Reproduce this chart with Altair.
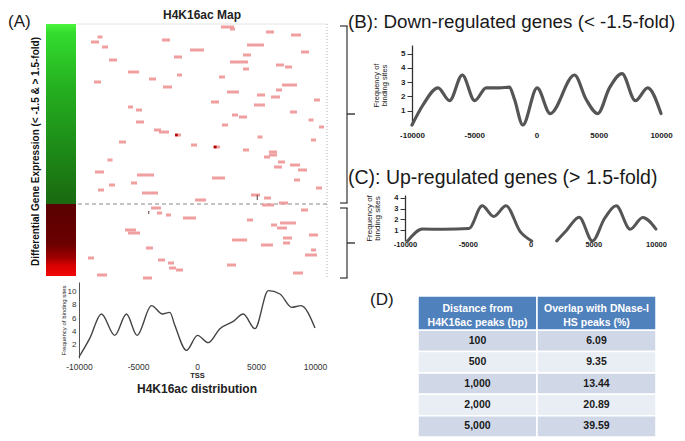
import altair as alt
import pandas as pd

FONT = "Liberation Sans"

# ---------------- Panel A: H4K16ac map ----------------
# binding sites: centre (bp from TSS), width (bp) and gene row (sorted by fold change)
seg_center = [2040, 2440, -8160, -8560, -7760, -2880, -400, 5440, 7520, 4280,
              8240, 3600, -7120, -1920, 2960, 6240, 6920, 3520, -5480, -1800,
              1600, -3960, -8360, 7000, -2760, 6160, 2480, 4720, 5880, 9200,
              1040, 4600, -5720, -5040, 7320, 2640, 3280, 8720, -4960, 1840,
              9560, -3560, -3040, -1920, 4640, -6360, 8920, -640, 1160, 3520,
              5680, 5680, 5200, -7360, 6360, 7440, 6080, 8040, -8200, -4520,
              1320, 7600, -5440, -7200, 9360, -8080, -4160, 4280, 5240, -120,
              6520, 5280, -3680, 8200, -3400, -2680, -1000, 3840, 6880, 5760,
              6400, -5720, -5440, 8920, 6840, 3000, 6760, 5200, -4200, 8920,
              8720, -8880, -3240, -2480, 2360, -2360, -1800, 7680, -8000, -4360]
seg_width = [1040, 400, 400, 640, 480, 640, 1120, 640, 800, 1360,
             640, 640, 640, 640, 1440, 640, 560, 480, 880, 400,
             480, 560, 560, 1200, 720, 480, 960, 640, 720, 480,
             640, 880, 400, 480, 560, 480, 640, 400, 640, 480,
             400, 560, 800, 480, 400, 560, 400, 480, 560, 480,
             640, 640, 480, 400, 560, 800, 640, 720, 720, 1360,
             1040, 480, 480, 480, 480, 480, 1280, 720, 560, 880,
             720, 960, 800, 560, 400, 400, 1040, 480, 1280, 480,
             800, 880, 960, 720, 720, 1200, 560, 960, 560, 400,
             960, 480, 560, 480, 720, 560, 560, 800, 800, 720]
seg_row = [3, 5, 13, 18, 23, 16, 26, 8, 11, 21,
           28, 31, 36, 33, 38, 41, 43, 45, 48, 51,
           53, 55, 58, 61, 63, 66, 68, 71, 73, 76,
           78, 81, 83, 86, 88, 91, 93, 96, 98, 101,
           103, 106, 108, 111, 113, 118, 116, 121, 123, 126,
           128, 131, 133, 136, 138, 141, 143, 146, 148, 151,
           154, 156, 159, 161, 164, 166, 169, 171, 174, 176,
           179, 181, 184, 186, 189, 191, 194, 196, 199, 201,
           204, 206, 209, 211, 214, 216, 219, 221, 224, 226,
           231, 234, 236, 239, 241, 244, 246, 249, 251, 254]
dot_pos = [-2050, 1060]
dot_row = [111, 123]
mark_pos = [4420, -4260]
mark_row_start = [171, 187]
mark_row_end = [176, 190]

group_names = ["Down-regulated", "Up-regulated"]
group_row_start = [0, 180]
group_row_end = [180, 252]
brace_start = [2, 184]
brace_end = [179, 254]
brace_mid = [90, 219]
N_ROWS = 254

# ---------------- Panel A: distribution ----------------
dist_x = [-10000, -9100, -8100, -6970, -5980, -5080, -3860, -2930, -2300, -1880, -890,
          40, 950, 1940, 3070, 3920, 4910, 6040, 7030, 8020, 8810, 10000]
dist_y = [0.15, 2.9, 6.6, 3.4, 6.6, 3.4, 7.85, 6.6, 6.85, 4.9, 1.15,
          3.4, 2.3, 4.4, 5.5, 6.6, 4.4, 10.1, 9.6, 7.6, 7.85, 4.5]

# ---------------- Panel B ----------------
b_x = [-10000, -9120, -7910, -6980, -5960, -4970, -4040, -2970, -2170, -1770, -1100,
       50, 1100, 3050, 3980, 4920, 5860, 6870, 7940, 8930, 10000]
b_y = [0.0, 1.4, 2.6, 1.7, 3.5, 1.7, 2.6, 2.6, 2.65, 1.8, 0.0,
       2.6, 0.8, 3.5, 1.8, 0.8, 2.6, 3.6, 1.7, 2.6, 0.8]

# ---------------- Panel C ----------------
c1_x = [-9790, -8600, -6890, -4910, -3850, -2930, -1950, -820, 100]
c1_y = [0.0, 1.1, 1.08, 1.15, 3.25, 2.26, 3.25, 0.87, 0.0]
c2_x = [2080, 2880, 3880, 4930, 5910, 6830, 7940, 8940, 10000]
c2_y = [0.0, 1.0, 2.2, 0.0, 2.1, 3.25, 1.08, 2.17, 1.1]

# ---------------- Panel D ----------------
table_header = ["Distance from\nH4K16ac peaks (bp)", "Overlap with DNase-I\nHS peaks (%)"]
table_distance = ["100", "500", "1,000", "2,000", "5,000"]
table_overlap = ["6.09", "9.35", "13.44", "20.89", "39.59"]

tick_values = [-10000, -5000, 0, 5000, 10000]
label_expr = "'' + datum.value"


def spacer(w, h):
    return (alt.Chart(pd.DataFrame({"v": [0]}))
            .mark_rect(opacity=0)
            .encode(x=alt.value(0), x2=alt.value(1), y=alt.value(0), y2=alt.value(1))
            .properties(width=w, height=h))


rows_scale = alt.Scale(domain=[0, N_ROWS], reverse=True, nice=False, zero=False)
pos_scale = alt.Scale(domain=[-10000, 10000], nice=False, zero=False)

# ---- colour bar ----
groups = pd.DataFrame({"group": group_names, "start": group_row_start, "end": group_row_end})
cb_y = alt.Y("start:Q", scale=rows_scale,
             axis=alt.Axis(title="Differential Gene Expression  (< -1.5 & > 1.5-fold)",
                           titleFontSize=10, titleFontWeight="bold", titleColor="#111",
                           labels=False, ticks=False, domain=False, grid=False, titlePadding=6))
green_grad = alt.LinearGradient(gradient="linear", x1=0, x2=0, y1=0, y2=1, stops=[
    alt.GradientStop(color="#4cf53c", offset=0),
    alt.GradientStop(color="#33dc2e", offset=0.05),
    alt.GradientStop(color="#25b020", offset=0.35),
    alt.GradientStop(color="#1d8a17", offset=0.7),
    alt.GradientStop(color="#1a6910", offset=1)])
red_grad = alt.LinearGradient(gradient="linear", x1=0, x2=0, y1=0, y2=1, stops=[
    alt.GradientStop(color="#5a0000", offset=0),
    alt.GradientStop(color="#6a0000", offset=0.55),
    alt.GradientStop(color="#a00000", offset=0.75),
    alt.GradientStop(color="#d80000", offset=0.85),
    alt.GradientStop(color="#f20808", offset=1)])
cb_down = (alt.Chart(groups).transform_filter(alt.datum.group == group_names[0])
           .mark_rect(fill=green_grad).encode(y=cb_y, y2="end:Q"))
cb_up = (alt.Chart(groups).transform_filter(alt.datum.group == group_names[1])
         .mark_rect(fill=red_grad).encode(y=cb_y, y2="end:Q"))
colorbar = alt.layer(cb_down, cb_up).properties(
    width=30, height=N_ROWS,
    title=alt.TitleParams("(A)", anchor="start", frame="group", dx=-38, fontSize=17,
                          fontWeight="normal", baseline="bottom", offset=-24))

# ---- map ----
segs = pd.DataFrame({"center": seg_center, "width": seg_width, "row": seg_row})
segs["start"] = segs["center"] - segs["width"] / 2
segs["end"] = segs["center"] + segs["width"] / 2
row_y = alt.Y("row:Q", scale=rows_scale, axis=None)
seg_layer = alt.Chart(segs).mark_rule(strokeWidth=3, color="#ef9f9f").encode(
    x=alt.X("start:Q", scale=pos_scale, axis=None), x2="end:Q", y=row_y)
dots = alt.Chart(pd.DataFrame({"pos": dot_pos, "row": dot_row})).mark_square(
    size=7, color="#b00000", opacity=1).encode(
    x=alt.X("pos:Q", scale=pos_scale, axis=None), y=row_y)
marks_ = alt.Chart(pd.DataFrame({"pos": mark_pos, "row": mark_row_start, "row_end": mark_row_end})).mark_rule(
    color="#5a3a3a", strokeWidth=1).encode(
    x=alt.X("pos:Q", scale=pos_scale, axis=None), y=row_y, y2="row_end:Q")
boundary = alt.Chart(pd.DataFrame({"row": [group_row_end[0]]})).mark_rule(
    strokeDash=[4, 3], color="#8a8a8a", strokeWidth=1).encode(y=row_y)
top_border = alt.Chart(pd.DataFrame({"row": [0]})).mark_rule(
    color="#e4e4e4", strokeWidth=1).encode(y=row_y)
right_border = alt.Chart(pd.DataFrame({"pos": [10000]})).mark_rule(
    strokeDash=[1, 2], color="#b0b0b0", strokeWidth=1).encode(
    x=alt.X("pos:Q", scale=pos_scale, axis=None))
mapc = alt.layer(top_border, right_border, boundary, seg_layer, dots, marks_).properties(
    width=250, height=N_ROWS,
    title=alt.TitleParams("H4K16ac Map", fontSize=12, fontWeight="bold", anchor="middle",
                          baseline="bottom", offset=-10, color="#222"))

# ---- braces ----
br = pd.DataFrame({"group": group_names, "start": brace_start, "end": brace_end, "mid": brace_mid})
b_vert = alt.Chart(br).mark_rule(color="#333", strokeWidth=1.2).encode(
    x=alt.value(19), y=alt.Y("start:Q", scale=rows_scale, axis=None), y2="end:Q")
b_top = alt.Chart(br).mark_rule(color="#333", strokeWidth=1.2).encode(
    x=alt.value(12), x2=alt.value(19.6), y=alt.Y("start:Q", scale=rows_scale, axis=None))
b_bot = alt.Chart(br).mark_rule(color="#333", strokeWidth=1.2).encode(
    x=alt.value(12), x2=alt.value(19.6), y=alt.Y("end:Q", scale=rows_scale, axis=None))
b_mid = alt.Chart(br).mark_rule(color="#333", strokeWidth=1.4).encode(
    x=alt.value(19), x2=alt.value(27), y=alt.Y("mid:Q", scale=rows_scale, axis=None))
brace = alt.layer(b_vert, b_top, b_bot, b_mid).properties(width=28, height=N_ROWS)

# ---- distribution ----
distdf = pd.DataFrame({"pos": dist_x, "freq": dist_y})
dist = alt.Chart(distdf).mark_line(interpolate="monotone", color="#444", strokeWidth=1.4).encode(
    x=alt.X("pos:Q", scale=pos_scale,
            axis=alt.Axis(values=tick_values, labelExpr=label_expr, title="TSS", titleFontSize=7.5,
                          titleFontWeight="bold", labelFontSize=8.5, labelColor="#333", domain=False,
                          ticks=False, grid=False, labelPadding=4, titlePadding=1, labelFlush=False)),
    y=alt.Y("freq:Q", scale=alt.Scale(domain=[0, 11.4], nice=False, zero=False),
            axis=alt.Axis(values=[2, 4, 6, 8, 10], title="Frequency of binding sites", titleFontSize=6,
                          titleFontWeight="normal", labelFontSize=8, labelColor="#333", domainColor="#555",
                          ticks=False, grid=False, labelPadding=3, titlePadding=1))
).properties(width=236, height=76,
             title=alt.TitleParams("H4K16ac distribution", orient="bottom", fontSize=12,
                                   fontWeight="bold", offset=5, color="#222"))

row1 = alt.hconcat(spacer(20, N_ROWS), colorbar, mapc, brace, spacing=1, bounds="flush")
distrow = alt.hconcat(spacer(54, 76), dist, spacing=0, bounds="flush")
left = alt.vconcat(row1, distrow, spacing=2)

# ---- Panel B ----
bdf = pd.DataFrame({"pos": b_x, "freq": b_y})
chart_b = alt.Chart(bdf).mark_line(interpolate="monotone", color="#555", strokeWidth=3.2,
                                   strokeCap="round").encode(
    x=alt.X("pos:Q", scale=alt.Scale(domain=[-10000, 10000], nice=False, zero=False, range=[7, 256]),
            axis=alt.Axis(values=tick_values, labelExpr=label_expr, title=None, domain=False, ticks=False,
                          grid=False, labelFontSize=8, labelFontWeight="bold", labelPadding=6,
                          offset=-70, labelFlush=False)),
    y=alt.Y("freq:Q", scale=alt.Scale(domain=[0, 5.6], nice=False, zero=False, range=[80, 0]),
            axis=alt.Axis(values=[1, 2, 3, 4, 5], title=["Frequency of", "binding sites"], titleFontSize=7.5,
                          titleLineHeight=8, titleFontWeight="normal", tickSize=5, tickColor="#333",
                          labelFontWeight="bold", labelFontSize=8, labelPadding=2, domainColor="#333",
                          domainWidth=1.3, grid=False, offset=-7, titlePadding=12))
).properties(width=256, height=150,
             title=alt.TitleParams("(B): Down-regulated genes (< -1.5-fold)", anchor="start", frame="group",
                                   dx=-57, fontSize=18.8, fontWeight="normal", baseline="bottom", offset=-5.7))

# ---- Panel C ----
cdf = pd.DataFrame({"pos": c1_x + c2_x, "freq": c1_y + c2_y,
                    "part": ["upstream"] * len(c1_x) + ["downstream"] * len(c2_x)})
chart_c = alt.Chart(cdf).mark_line(interpolate="monotone", color="#555", strokeWidth=3,
                                   strokeCap="round").encode(
    x=alt.X("pos:Q", scale=alt.Scale(domain=[-10000, 10000], nice=False, zero=False),
            axis=alt.Axis(values=tick_values, labelExpr=label_expr, title=None, domain=False, ticks=False,
                          grid=False, labelFontSize=7.5, labelFontWeight="bold", labelPadding=-1,
                          offset=-55, labelFlush=False)),
    y=alt.Y("freq:Q", scale=alt.Scale(domain=[0, 4.25], nice=False, zero=False, range=[46, 0]),
            axis=alt.Axis(values=[1, 2, 3, 4], title=["Frequency of", "binding sites"], titleFontSize=8,
                          titleLineHeight=8, titleFontWeight="normal", tickSize=5, tickColor="#333",
                          labelFontWeight="bold", labelFontSize=7.5, labelPadding=2, domainColor="#333",
                          domainWidth=1.3, grid=False, titlePadding=12)),
    detail="part:N"
).properties(width=251, height=101,
             title=alt.TitleParams("(C): Up-regulated genes (> 1.5-fold)", anchor="start", frame="group",
                                   dx=-57, fontSize=19.5, fontWeight="normal", baseline="bottom", offset=-13.8))

# ---- Panel D (table) ----
HEADER_UNITS = 1.6
cells = []
for c, h in enumerate(table_header):
    cells.append({"col": c, "top": 0.0, "bottom": HEADER_UNITS, "kind": "header", "label": h})
for i, vals in enumerate(zip(table_distance, table_overlap)):
    kind = "dark" if i % 2 == 0 else "light"
    for c, v in enumerate(vals):
        cells.append({"col": c, "top": HEADER_UNITS + i, "bottom": HEADER_UNITS + i + 1,
                      "kind": kind, "label": v})
cells = pd.DataFrame(cells)
cells["col_end"] = cells["col"] + 1
cells["mid_x"] = cells["col"] + 0.5
cells["mid_y"] = (cells["top"] + cells["bottom"]) / 2

tx = alt.Scale(domain=[0, 2], range=[13, 251], nice=False, zero=False)
ty = alt.Scale(domain=[0, HEADER_UNITS + len(table_distance)], reverse=True, nice=False, zero=False)
t_rect = alt.Chart(cells).mark_rect(stroke="white", strokeWidth=1.5).encode(
    x=alt.X("col:Q", scale=tx, axis=None), x2="col_end:Q",
    y=alt.Y("top:Q", scale=ty, axis=None), y2="bottom:Q",
    fill=alt.Fill("kind:N", scale=alt.Scale(domain=["header", "dark", "light"],
                                            range=["#4f81bd", "#d0d8e8", "#e9edf4"]), legend=None))
t_head = alt.Chart(cells).transform_filter(alt.datum.kind == "header").mark_text(
    fontSize=10.5, fontWeight="bold", color="white", lineBreak="\n", lineHeight=14, dy=-4).encode(
    x=alt.X("mid_x:Q", scale=tx, axis=None), y=alt.Y("mid_y:Q", scale=ty, axis=None), text="label:N")
t_body = alt.Chart(cells).transform_filter(alt.datum.kind != "header").mark_text(
    fontSize=10.5, fontWeight="bold", color="#1a1a1a").encode(
    x=alt.X("mid_x:Q", scale=tx, axis=None), y=alt.Y("mid_y:Q", scale=ty, axis=None), text="label:N")
chart_d = alt.layer(t_rect, t_head, t_body).properties(
    width=251, height=141,
    title=alt.TitleParams("(D)", anchor="start", frame="group", dx=-35, fontSize=17,
                          fontWeight="normal", baseline="bottom", offset=-31))

right = alt.vconcat(spacer(10, 21), chart_b, chart_c, chart_d, spacing=0, bounds="flush")

chart = alt.hconcat(left, right, spacing=-8).properties(padding=0).configure_view(
    stroke=None).configure_axis(
    labelFont=FONT, titleFont=FONT, labelColor="#222", titleColor="#222").configure_title(
    font=FONT, color="#1a1a1a").configure_text(font=FONT)

chart.save("out.html", embed_options={"renderer": "svg", "actions": False})
